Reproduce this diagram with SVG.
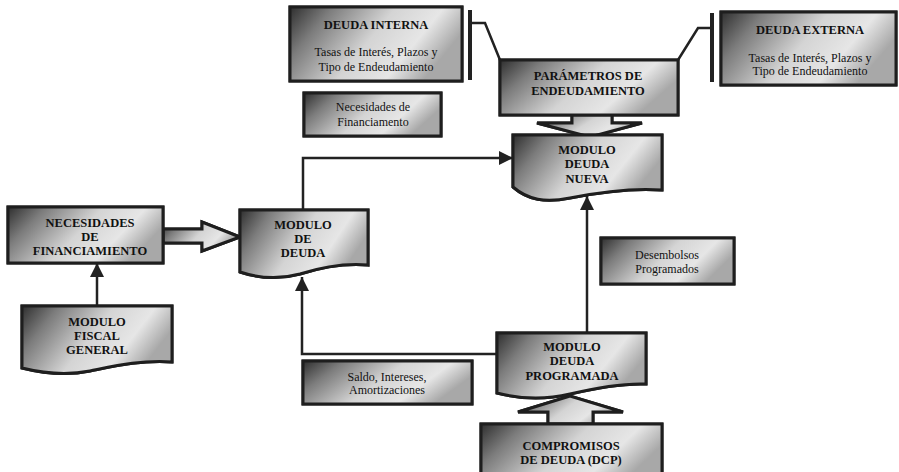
<svg xmlns="http://www.w3.org/2000/svg" xmlns:xlink="http://www.w3.org/1999/xlink" width="899" height="472" viewBox="0 0 899 472">
  <defs>
    <linearGradient id="shade" x1="0" y1="0" x2="1" y2="0.35">
      <stop offset="0" stop-color="#2e2e2e"/>
      <stop offset="0.22" stop-color="#7c7c7c"/>
      <stop offset="0.55" stop-color="#d4d4d4"/>
      <stop offset="0.8" stop-color="#e6e6e6"/>
      <stop offset="1" stop-color="#a8a8a8"/>
    </linearGradient>
    <pattern id="grain" width="3" height="3" patternUnits="userSpaceOnUse" patternTransform="rotate(45)">
      <rect x="0" y="0" width="1.2" height="3" fill="#000" fill-opacity="0.22"/>
    </pattern>
    <marker id="arrow" markerUnits="userSpaceOnUse" markerWidth="16" markerHeight="14" refX="14" refY="7" orient="auto">
      <path d="M0,0 L14,7 L0,14 Z" fill="#222"/>
    </marker>
    <style>
      .box { fill: url(#shade); stroke: #1e1e1e; stroke-width: 3; stroke-linejoin: miter; }
      .grain { fill: url(#grain); stroke: none; }
      .link { fill: none; stroke: #222; stroke-width: 2.5; }
      .bar { fill: none; stroke: #222; stroke-width: 4; }
      .tb { font-family: "Liberation Serif", "Times New Roman", serif; font-weight: bold; font-size: 12.5px; fill: #111; text-anchor: middle; }
      .tn { font-family: "Liberation Serif", "Times New Roman", serif; font-size: 12px; fill: #111; text-anchor: middle; }
    </style>
  </defs>

  <!-- connectors -->
  <g id="connectors">
    <!-- bracket links from the two debt sources into the parameter box -->
    <path class="bar" d="M470,10 V80"/>
    <path class="link" d="M470,23 H485 L500,60" stroke-width="3"/>
    <path class="bar" d="M712,13 V82"/>
    <path class="link" d="M712,28 H698 L678,60" stroke-width="3"/>
    <!-- line arrows -->
    <path class="link" d="M303,210 V158 H513" marker-end="url(#arrow)"/>
    <path class="link" d="M97,306 V263" marker-end="url(#arrow)"/>
    <path class="link" d="M497,354 H302 V277" marker-end="url(#arrow)"/>
    <path class="link" d="M587,333 V196" marker-end="url(#arrow)"/>
  </g>

  <!-- block arrows -->
  <g id="arrow-parametros">
    <path id="ba1" class="box" d="M572,114 V123 H537 L590,137 L642,123 H612 V114 Z"/>
    <use xlink:href="#ba1" class="grain"/>
  </g>
  <g id="arrow-necesidades">
    <path id="ba2" class="box" d="M163,229 H202 V222 L240,237 L202,251 V243 H163 Z"/>
    <use xlink:href="#ba2" class="grain"/>
  </g>
  <g id="arrow-compromisos">
    <path id="ba3" class="box" d="M548,424 V412 H518 L570,396 L623,412 H593 V424 Z"/>
    <use xlink:href="#ba3" class="grain"/>
  </g>

  <!-- nodes -->
  <g id="deuda-interna">
    <rect id="s1" class="box" x="290" y="7" width="172" height="74"/>
    <use xlink:href="#s1" class="grain"/>
    <text class="tb" x="376" y="29">DEUDA INTERNA</text>
    <text class="tn" x="376" y="56">Tasas de Interés, Plazos y</text>
    <text class="tn" x="376" y="71">Tipo de Endeudamiento</text>
  </g>

  <g id="deuda-externa">
    <rect id="s2" class="box" x="721" y="12" width="175" height="73"/>
    <use xlink:href="#s2" class="grain"/>
    <text class="tb" x="810" y="34">DEUDA EXTERNA</text>
    <text class="tn" x="810" y="62">Tasas de Interés, Plazos y</text>
    <text class="tn" x="810" y="75">Tipo de Endeudamiento</text>
  </g>

  <g id="parametros">
    <rect id="s3" class="box" x="500" y="60" width="178" height="55"/>
    <use xlink:href="#s3" class="grain"/>
    <text class="tb" x="588" y="80">PARÁMETROS DE</text>
    <text class="tb" x="588" y="95">ENDEUDAMIENTO</text>
  </g>

  <g id="necesidades-label">
    <rect id="s4" class="box" x="304" y="93" width="137" height="43"/>
    <use xlink:href="#s4" class="grain"/>
    <text class="tn" x="373" y="111">Necesidades de</text>
    <text class="tn" x="373" y="126">Financiamento</text>
  </g>

  <g id="modulo-deuda-nueva">
    <path id="s5" class="box" d="M513,135 H662 V190 C635,188 600,192 570,198 C545,203 528,200 513,187 Z"/>
    <use xlink:href="#s5" class="grain"/>
    <text class="tb" x="587" y="154">MODULO</text>
    <text class="tb" x="587" y="168">DEUDA</text>
    <text class="tb" x="587" y="183">NUEVA</text>
  </g>

  <g id="necesidades-financiamiento">
    <rect id="s6" class="box" x="8" y="207" width="155" height="56"/>
    <use xlink:href="#s6" class="grain"/>
    <text class="tb" x="90" y="227">NECESIDADES</text>
    <text class="tb" x="90" y="241">DE</text>
    <text class="tb" x="90" y="255">FINANCIAMIENTO</text>
  </g>

  <g id="modulo-deuda">
    <path id="s7" class="box" d="M240,210 H368 V265 C345,263 322,267 300,274 C278,280 258,278 240,272 Z"/>
    <use xlink:href="#s7" class="grain"/>
    <text class="tb" x="303" y="229">MODULO</text>
    <text class="tb" x="303" y="243">DE</text>
    <text class="tb" x="303" y="257">DEUDA</text>
  </g>

  <g id="modulo-fiscal-general">
    <path id="s8" class="box" d="M22,306 H172 V362 C140,360 115,366 90,371 C65,376 42,373 22,368 Z"/>
    <use xlink:href="#s8" class="grain"/>
    <text class="tb" x="97" y="326">MODULO</text>
    <text class="tb" x="97" y="340">FISCAL</text>
    <text class="tb" x="97" y="354">GENERAL</text>
  </g>

  <g id="desembolsos">
    <rect id="s9" class="box" x="601" y="238" width="133" height="46"/>
    <use xlink:href="#s9" class="grain"/>
    <text class="tn" x="667" y="259">Desembolsos</text>
    <text class="tn" x="667" y="273">Programados</text>
  </g>

  <g id="modulo-deuda-programada">
    <path id="s10" class="box" d="M497,333 H646 V384 C620,383 595,388 570,394 C545,400 520,399 497,393 Z"/>
    <use xlink:href="#s10" class="grain"/>
    <text class="tb" x="572" y="351">MODULO</text>
    <text class="tb" x="572" y="365">DEUDA</text>
    <text class="tb" x="572" y="380">PROGRAMADA</text>
  </g>

  <g id="saldo">
    <rect id="s11" class="box" x="303" y="361" width="169" height="43"/>
    <use xlink:href="#s11" class="grain"/>
    <text class="tn" x="387" y="381">Saldo, Intereses,</text>
    <text class="tn" x="387" y="394">Amortizaciones</text>
  </g>

  <g id="compromisos">
    <rect id="s12" class="box" x="481" y="424" width="181" height="60"/>
    <use xlink:href="#s12" class="grain"/>
    <text class="tb" x="571" y="450">COMPROMISOS</text>
    <text class="tb" x="571" y="464">DE DEUDA (DCP)</text>
  </g>
</svg>
